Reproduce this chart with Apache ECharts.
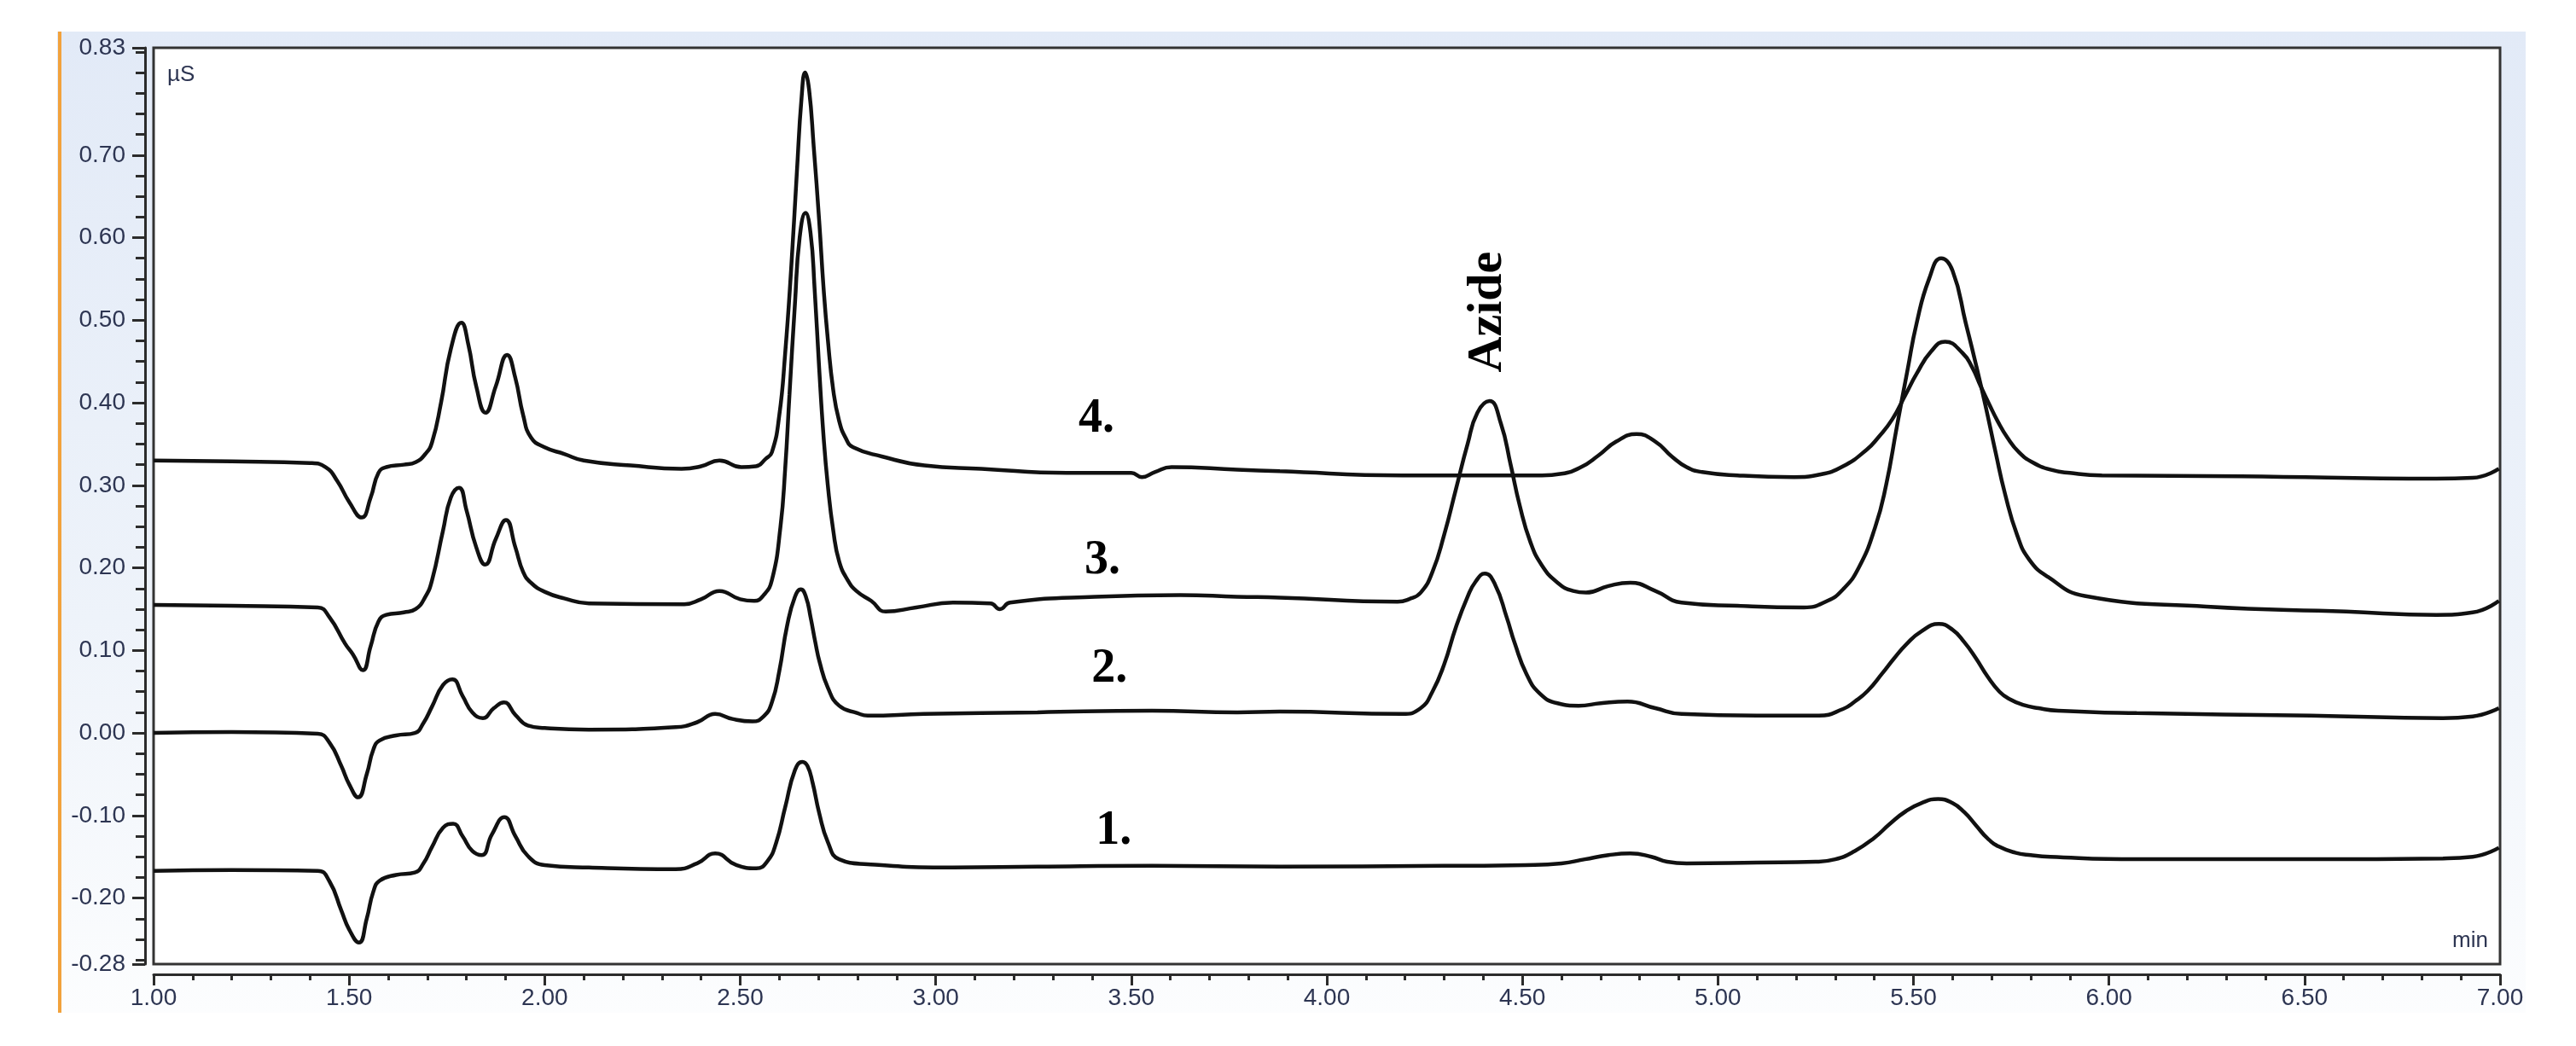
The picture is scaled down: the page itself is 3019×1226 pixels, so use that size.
<!DOCTYPE html>
<html>
<head>
<meta charset="utf-8">
<title>Chromatogram</title>
<script src="https://cdn.jsdelivr.net/npm/echarts/dist/echarts.min.js"></script>
<style>
  html, body { margin: 0; padding: 0; background: #fff; }
  #main { width: 3019px; height: 1226px; }
</style>
</head>
<body>
<div id="main"></div>
<script>
// retention time (min) / conductivity (µS)
var trace1 = [
  [1.00, -0.167], [1.20, -0.166], [1.42, -0.167], [1.45, -0.180], [1.48, -0.215], [1.50, -0.238],
  [1.525, -0.254], [1.545, -0.225], [1.562, -0.192], [1.578, -0.179], [1.62, -0.172], [1.668, -0.169],
  [1.69, -0.158], [1.712, -0.138], [1.74, -0.115], [1.766, -0.110], [1.79, -0.125], [1.815, -0.143],
  [1.839, -0.148], [1.865, -0.123], [1.897, -0.102], [1.925, -0.125], [1.957, -0.149], [2.00, -0.160],
  [2.113, -0.163], [2.335, -0.165], [2.39, -0.158], [2.436, -0.146], [2.49, -0.160], [2.541, -0.164],
  [2.57, -0.155], [2.592, -0.133], [2.615, -0.090], [2.640, -0.045], [2.659, -0.035], [2.672, -0.040],
  [2.685, -0.060], [2.702, -0.097], [2.724, -0.132], [2.753, -0.153], [2.826, -0.159], [3.044, -0.163],
  [3.26, -0.162], [3.553, -0.161], [3.88, -0.162], [4.30, -0.161], [4.507, -0.160], [4.60, -0.158],
  [4.66, -0.153], [4.72, -0.148], [4.776, -0.146], [4.83, -0.150], [4.87, -0.156], [4.92, -0.158],
  [5.10, -0.157], [5.25, -0.156], [5.30, -0.153], [5.35, -0.143], [5.40, -0.127], [5.44, -0.110],
  [5.48, -0.095], [5.52, -0.085], [5.563, -0.080], [5.60, -0.085], [5.63, -0.096], [5.66, -0.112],
  [5.69, -0.128], [5.72, -0.138], [5.76, -0.145], [5.80, -0.148], [5.85, -0.150], [6.071, -0.153],
  [6.516, -0.153], [6.854, -0.152], [6.93, -0.150], [6.997, -0.139]
];
var trace2 = [
  [1.00, 0.000], [1.20, 0.001], [1.42, -0.001], [1.45, -0.012], [1.48, -0.040], [1.50, -0.062],
  [1.523, -0.078], [1.545, -0.050], [1.562, -0.020], [1.578, -0.009], [1.62, -0.003], [1.668, 0.000],
  [1.69, 0.012], [1.712, 0.032], [1.74, 0.058], [1.764, 0.065], [1.79, 0.045], [1.815, 0.025],
  [1.842, 0.018], [1.87, 0.030], [1.896, 0.037], [1.925, 0.022], [1.957, 0.009], [2.00, 0.006],
  [2.113, 0.004], [2.335, 0.007], [2.39, 0.013], [2.436, 0.023], [2.48, 0.017], [2.531, 0.014],
  [2.56, 0.020], [2.581, 0.037], [2.60, 0.075], [2.62, 0.130], [2.640, 0.165], [2.655, 0.174],
  [2.668, 0.165], [2.680, 0.140], [2.692, 0.110], [2.703, 0.086], [2.724, 0.055], [2.753, 0.033],
  [2.80, 0.024], [2.826, 0.021], [2.97, 0.023], [3.26, 0.025], [3.553, 0.027], [3.771, 0.025],
  [3.88, 0.026], [4.193, 0.023], [4.24, 0.030], [4.27, 0.050], [4.30, 0.083], [4.33, 0.128],
  [4.36, 0.165], [4.38, 0.183], [4.404, 0.193], [4.43, 0.180], [4.46, 0.140], [4.481, 0.108],
  [4.51, 0.072], [4.544, 0.048], [4.59, 0.036], [4.644, 0.033], [4.70, 0.036], [4.769, 0.038],
  [4.84, 0.030], [4.907, 0.023], [5.10, 0.021], [5.258, 0.021], [5.32, 0.029], [5.35, 0.038],
  [5.383, 0.051], [5.42, 0.072], [5.45, 0.090], [5.483, 0.108], [5.52, 0.123], [5.565, 0.132],
  [5.60, 0.125], [5.63, 0.110], [5.659, 0.091], [5.69, 0.068], [5.72, 0.050], [5.746, 0.041],
  [5.78, 0.034], [5.82, 0.030], [5.87, 0.027], [6.071, 0.024], [6.516, 0.021], [6.854, 0.018],
  [6.93, 0.020], [6.997, 0.030]
];
var trace3 = [
  [1.00, 0.155], [1.20, 0.154], [1.42, 0.152], [1.45, 0.140], [1.49, 0.108], [1.51, 0.095],
  [1.535, 0.076], [1.555, 0.105], [1.575, 0.135], [1.595, 0.143], [1.64, 0.146], [1.67, 0.150],
  [1.695, 0.165], [1.712, 0.185], [1.74, 0.245], [1.76, 0.285], [1.781, 0.297], [1.80, 0.270],
  [1.825, 0.225], [1.848, 0.204], [1.875, 0.235], [1.901, 0.258], [1.925, 0.225], [1.945, 0.195],
  [1.965, 0.182], [2.00, 0.171], [2.05, 0.163], [2.113, 0.157], [2.357, 0.156], [2.40, 0.162],
  [2.447, 0.172], [2.50, 0.162], [2.536, 0.160], [2.56, 0.167], [2.581, 0.185], [2.603, 0.250],
  [2.615, 0.320], [2.626, 0.410], [2.640, 0.520], [2.652, 0.600], [2.667, 0.630], [2.680, 0.605],
  [2.690, 0.540], [2.702, 0.441], [2.713, 0.360], [2.724, 0.300], [2.738, 0.245], [2.753, 0.208],
  [2.775, 0.185], [2.797, 0.172], [2.835, 0.160], [2.872, 0.147], [2.95, 0.152], [3.044, 0.158],
  [3.14, 0.157], [3.164, 0.150], [3.19, 0.158], [3.407, 0.165], [3.625, 0.167], [3.771, 0.165],
  [3.88, 0.164], [4.181, 0.159], [4.21, 0.162], [4.24, 0.170], [4.27, 0.195], [4.30, 0.240],
  [4.33, 0.295], [4.36, 0.350], [4.385, 0.388], [4.416, 0.402], [4.445, 0.375], [4.47, 0.325],
  [4.493, 0.276], [4.52, 0.232], [4.55, 0.203], [4.59, 0.182], [4.63, 0.172], [4.663, 0.170],
  [4.72, 0.178], [4.776, 0.182], [4.84, 0.172], [4.907, 0.158], [5.05, 0.154], [5.22, 0.152],
  [5.28, 0.160], [5.32, 0.174], [5.36, 0.200], [5.402, 0.249], [5.43, 0.300], [5.458, 0.372],
  [5.485, 0.440], [5.508, 0.496], [5.54, 0.550], [5.571, 0.575], [5.60, 0.560], [5.634, 0.496],
  [5.658, 0.450], [5.684, 0.397], [5.71, 0.340], [5.734, 0.290], [5.765, 0.240], [5.796, 0.210],
  [5.844, 0.189], [5.938, 0.166], [6.249, 0.153], [6.606, 0.147], [6.837, 0.143], [6.93, 0.146],
  [6.997, 0.160]
];
var trace4 = [
  [1.00, 0.330], [1.20, 0.329], [1.40, 0.327], [1.44, 0.322], [1.47, 0.305], [1.50, 0.280],
  [1.532, 0.261], [1.555, 0.285], [1.575, 0.315], [1.595, 0.322], [1.64, 0.325], [1.67, 0.328],
  [1.695, 0.338], [1.712, 0.352], [1.735, 0.400], [1.76, 0.465], [1.787, 0.497], [1.805, 0.470],
  [1.825, 0.420], [1.849, 0.388], [1.875, 0.420], [1.904, 0.458], [1.925, 0.430], [1.945, 0.385],
  [1.965, 0.358], [2.00, 0.346], [2.05, 0.338], [2.10, 0.330], [2.22, 0.324], [2.35, 0.320],
  [2.40, 0.323], [2.447, 0.330], [2.503, 0.322], [2.54, 0.323], [2.565, 0.332], [2.581, 0.340],
  [2.60, 0.385], [2.615, 0.460], [2.630, 0.560], [2.645, 0.680], [2.657, 0.770], [2.666, 0.800],
  [2.676, 0.780], [2.688, 0.710], [2.702, 0.620], [2.713, 0.540], [2.724, 0.477], [2.738, 0.415],
  [2.753, 0.378], [2.77, 0.357], [2.789, 0.346], [2.862, 0.335], [2.971, 0.324], [3.117, 0.320],
  [3.335, 0.315], [3.50, 0.315], [3.527, 0.310], [3.56, 0.316], [3.603, 0.322], [3.771, 0.319],
  [3.88, 0.317], [4.193, 0.312], [4.40, 0.312], [4.55, 0.312], [4.60, 0.314], [4.65, 0.322],
  [4.694, 0.336], [4.74, 0.353], [4.792, 0.362], [4.84, 0.353], [4.882, 0.335], [4.92, 0.322],
  [4.96, 0.316], [5.05, 0.312], [5.195, 0.310], [5.26, 0.313], [5.32, 0.323], [5.38, 0.343],
  [5.41, 0.358], [5.446, 0.380], [5.48, 0.410], [5.508, 0.435], [5.545, 0.462], [5.581, 0.474],
  [5.626, 0.460], [5.65, 0.443], [5.672, 0.420], [5.695, 0.397], [5.715, 0.378], [5.74, 0.358],
  [5.77, 0.340], [5.804, 0.328], [5.85, 0.319], [5.90, 0.315], [5.982, 0.312], [6.338, 0.311],
  [6.837, 0.308], [6.93, 0.309], [6.997, 0.320]
];

// axis ticks
var yLabelValues = [-0.28, -0.20, -0.10, 0.00, 0.10, 0.20, 0.30, 0.40, 0.50, 0.60, 0.70, 0.83];
var yMinorValues = [];
for (var k = -11; k <= 33; k++) { yMinorValues.push(k * 0.025); }

// trace numbers and peak name: text, time, level
var noteText = ['1.', '2.', '3.', '4.'];
var noteTime = [3.455, 3.444, 3.426, 3.411];
var noteLevel = [-0.119, 0.077, 0.208, 0.380];
var peakName = 'Azide';
var peakNameAt = [4.413, 0.510];

var inkColor = '#2b2b2b';
var textColor = '#2d3552';

var chart = echarts.init(document.getElementById('main'));

function traceSeries(name, data) {
  return {
    name: name,
    type: 'line',
    data: data,
    showSymbol: false,
    smooth: 0.5,
    lineStyle: { color: '#111', width: 4.5 },
    z: 5
  };
}

var option = {
  animation: false,
  backgroundColor: '#fff',
  grid: {
    left: 180, right: 89, top: 56, bottom: 96,
    show: true,
    backgroundColor: '#fff',
    borderColor: '#333',
    borderWidth: 3
  },
  xAxis: {
    type: 'value',
    min: 1, max: 7, interval: 0.5,
    offset: 12,
    axisLine: { show: true, onZero: false, lineStyle: { color: inkColor, width: 3 } },
    axisTick: { show: true, length: 13, lineStyle: { color: inkColor, width: 3 } },
    minorTick: { show: true, splitNumber: 5, length: 7, lineStyle: { color: inkColor, width: 3 } },
    axisLabel: {
      margin: 14,
      fontFamily: 'Liberation Sans',
      fontSize: 28,
      color: textColor,
      formatter: function (v) { return v.toFixed(2); }
    },
    splitLine: { show: false }
  },
  yAxis: [
    {
      type: 'value',
      min: -0.28, max: 0.83,
      position: 'left',
      offset: 10,
      axisLine: { show: true, onZero: false, lineStyle: { color: inkColor, width: 3 } },
      axisTick: { show: true, length: 15, customValues: yLabelValues, lineStyle: { color: inkColor, width: 3 } },
      axisLabel: {
        customValues: yLabelValues,
        margin: 23,
        fontFamily: 'Liberation Sans',
        fontSize: 28,
        color: textColor,
        formatter: function (v) { return v.toFixed(2); }
      },
      splitLine: { show: false }
    },
    {
      type: 'value',
      min: -0.28, max: 0.83,
      position: 'left',
      offset: 10,
      axisLine: { show: false },
      axisTick: { show: true, length: 11, customValues: yMinorValues, lineStyle: { color: inkColor, width: 3 } },
      axisLabel: { show: false },
      splitLine: { show: false }
    }
  ],
  series: [
    traceSeries('1', trace1),
    traceSeries('2', trace2),
    traceSeries('3', trace3),
    traceSeries('4', trace4)
  ]
};

chart.setOption(option);

// frame, units and annotations
var graphics = [
  {
    type: 'rect', z: -10, silent: true,
    shape: { x: 67, y: 37, width: 2893, height: 1150 },
    style: {
      fill: new echarts.graphic.LinearGradient(0, 0, 0, 1, [
        { offset: 0, color: '#e2eaf7' },
        { offset: 0.6, color: '#eef3fa' },
        { offset: 1, color: '#fcfdfe' }
      ])
    }
  },
  { type: 'rect', z: -9, silent: true, shape: { x: 68, y: 37, width: 4, height: 1150 }, style: { fill: '#f2a23c' } },
  {
    type: 'text', z: 20, x: 196, y: 88,
    style: { text: 'µS', font: '26px "Liberation Sans"', fill: textColor, verticalAlign: 'middle', align: 'left' }
  },
  {
    type: 'text', z: 20, x: 2916, y: 1103,
    style: { text: 'min', font: '26px "Liberation Sans"', fill: textColor, verticalAlign: 'middle', align: 'right' }
  }
];

for (var i = 0; i < noteText.length; i++) {
  var p = chart.convertToPixel({ xAxisIndex: 0, yAxisIndex: 0 }, [noteTime[i], noteLevel[i]]);
  graphics.push({
    type: 'text', z: 20, x: p[0], y: p[1],
    style: {
      text: noteText[i],
      font: 'bold 56px "Liberation Serif"',
      fill: '#000',
      align: 'center',
      verticalAlign: 'middle'
    }
  });
}

var q = chart.convertToPixel({ xAxisIndex: 0, yAxisIndex: 0 }, peakNameAt);
graphics.push({
  type: 'text', z: 20, x: q[0], y: q[1],
  rotation: Math.PI / 2,
  style: {
    text: peakName,
    font: 'bold 58px "Liberation Serif"',
    fill: '#000',
    align: 'center',
    verticalAlign: 'middle'
  }
});

chart.setOption({ graphic: graphics });
</script>
</body>
</html>
